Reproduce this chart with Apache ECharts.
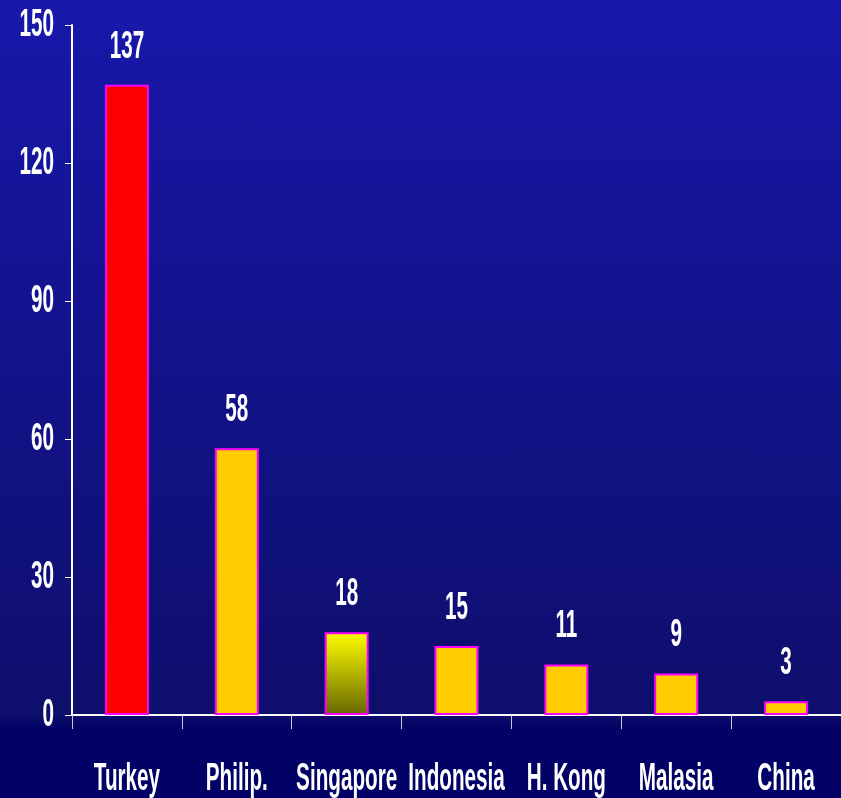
<!DOCTYPE html>
<html>
<head>
<meta charset="utf-8">
<script src="https://cdn.jsdelivr.net/npm/echarts@6/dist/echarts.min.js"></script>
<style>
	html, body {
		margin: 0;
		padding: 0;
	}
	body {
		width: 841px;
		height: 798px;
		background: linear-gradient(to bottom, #1818ab 0px, #121287 400px, #0e0e6c 715px, #020266 728px, #000066 798px);
	}
	#main {
		width: 841px;
		height: 798px;
	}
</style>
</head>
<body>
<div id="main"></div>
<script>
var categories = ['Turkey', 'Philip.', 'Singapore', 'Indonesia', 'H. Kong', 'Malasia', 'China'];
var values = [137, 58, 18, 15, 11, 9, 3];
var yTicks = [0, 30, 60, 90, 120, 150];

var gold = '#ffcc00';
var barColors = [
	'#ff0000',
	gold,
	new echarts.graphic.LinearGradient(0, 0, 0, 1, [
		{offset: 0, color: '#ffff00'},
		{offset: 1, color: '#666600'}
	]),
	gold, gold, gold, gold
];

var myChart = echarts.init(document.getElementById('main'));
var option = {
	animation: false,
	grid: {
		left: 72,
		right: -1,
		top: 25,
		bottom: 83
	},
	xAxis: {
		type: 'category',
		data: categories,
		axisLine: {lineStyle: {color: '#ffffff', width: 2}},
		axisTick: {show: true, length: 14, lineStyle: {color: '#c8c8d8'}},
		axisLabel: {show: false}
	},
	yAxis: {
		type: 'value',
		min: yTicks[0],
		max: yTicks[yTicks.length - 1],
		interval: 30,
		splitLine: {show: false},
		axisLine: {show: true, lineStyle: {color: '#ffffff', width: 2}},
		axisTick: {show: true, length: 7, lineStyle: {color: '#ffffff'}},
		axisLabel: {show: false}
	},
	series: [{
		type: 'bar',
		barWidth: 44,
		data: values.map(function (v, i) {
			return {value: v, itemStyle: {color: barColors[i]}};
		}),
		itemStyle: {
			borderColor: '#ff00ff',
			borderWidth: 2
		}
	}]
};
myChart.setOption(option);

// 文字是窄长的粗体，用 scaleX 压扁
function narrowText (x, y, txt, align) {
	return {
		type: 'text',
		x: x,
		y: y,
		scaleX: 0.53,
		silent: true,
		style: {
			text: txt,
			fill: '#ffffff',
			fontFamily: '"Liberation Sans", Arial, sans-serif',
			fontWeight: 'bold',
			fontSize: 39,
			align: align || 'center',
			verticalAlign: 'middle'
		}
	};
}

var texts = [];
yTicks.forEach(function (t) {
	var py = myChart.convertToPixel({yAxisIndex: 0}, t);
	texts.push(narrowText(54, py, String(t), 'right'));
});
var zeroY = myChart.convertToPixel({yAxisIndex: 0}, 0);
categories.forEach(function (c) {
	var px = myChart.convertToPixel({xAxisIndex: 0}, c);
	texts.push(narrowText(px, zeroY + 64, c));
});
values.forEach(function (v, i) {
	var p = myChart.convertToPixel({seriesIndex: 0}, [i, v]);
	texts.push(narrowText(p[0], p[1] - 38, String(v)));
});
myChart.setOption({graphic: texts});
</script>
</body>
</html>
